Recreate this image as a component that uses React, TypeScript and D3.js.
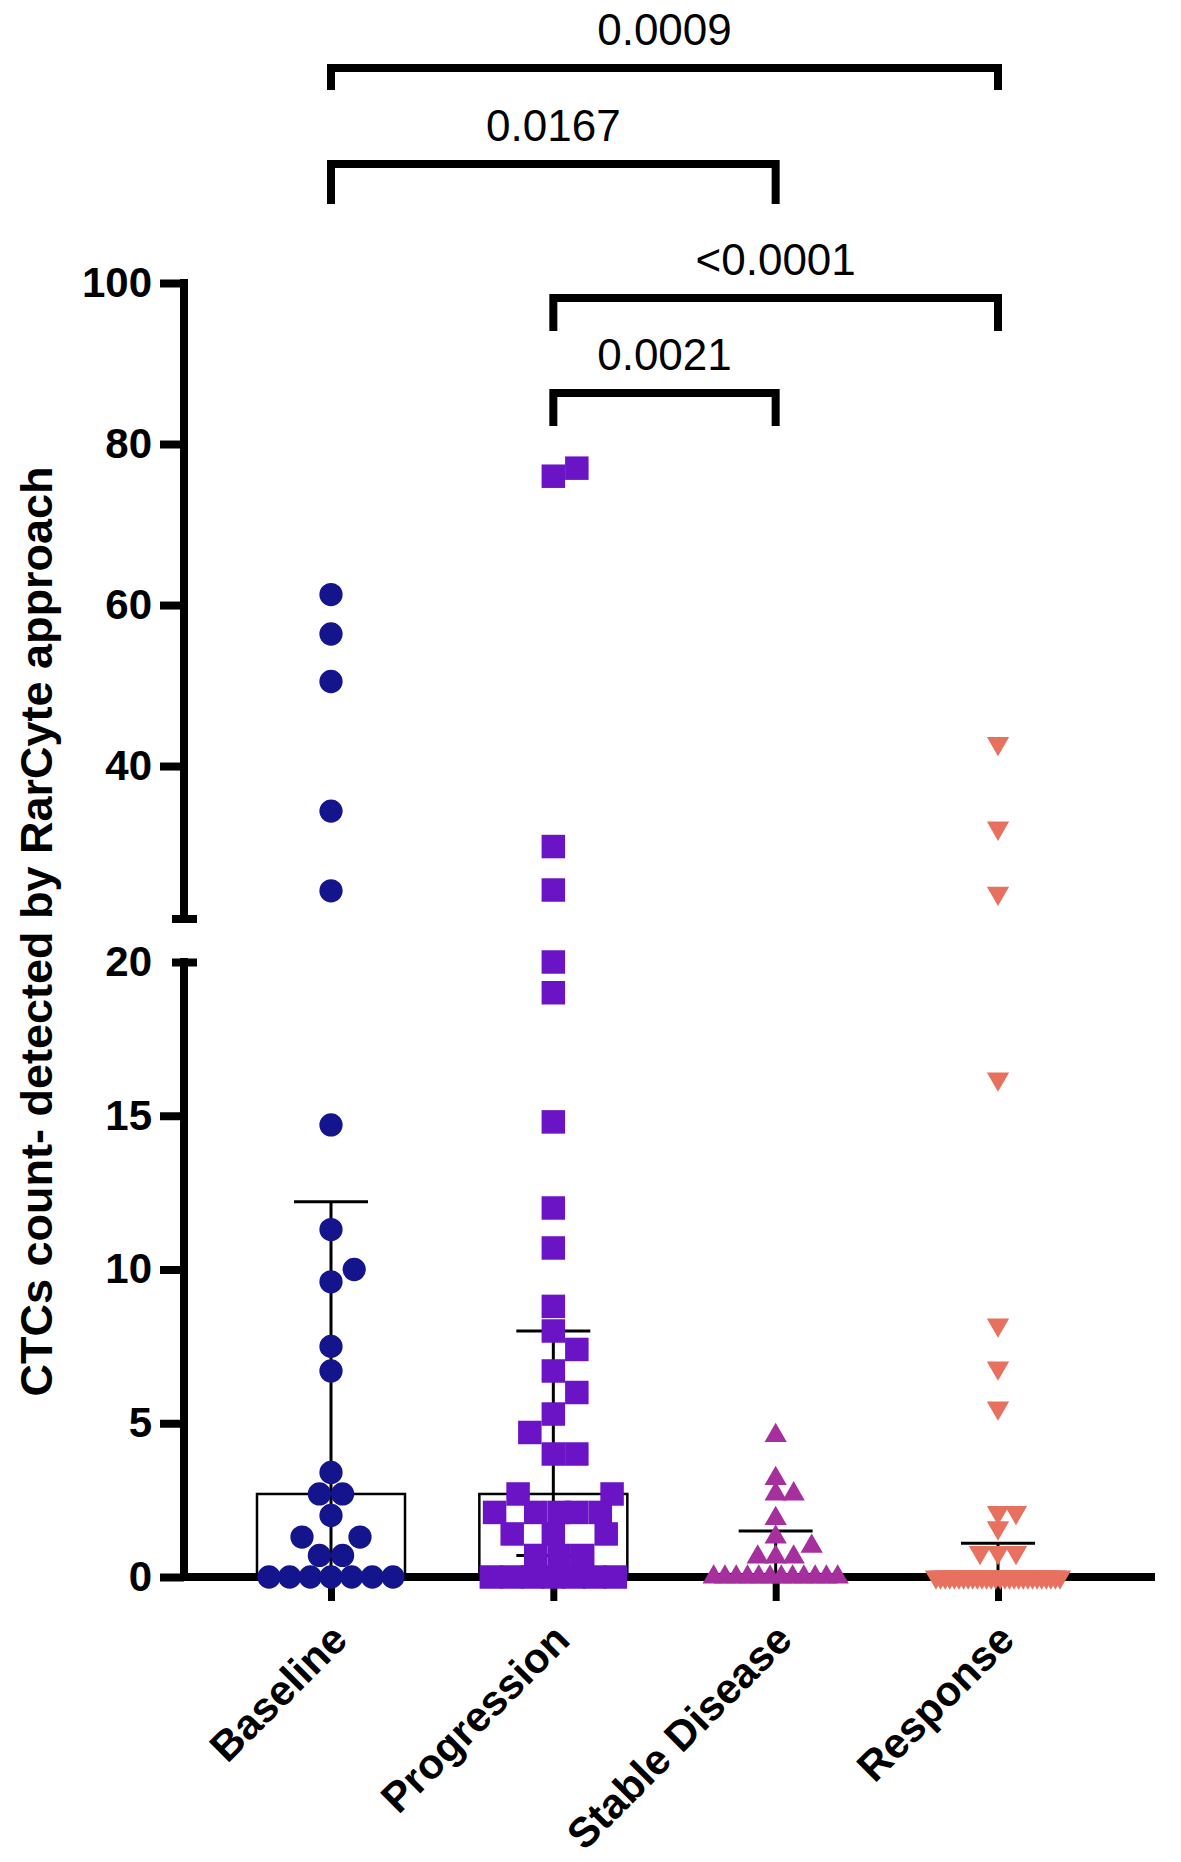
import { useEffect, useRef } from 'react';
import * as d3 from 'd3';

const categories = ['Baseline', 'Progression', 'Stable Disease', 'Response'];

const baselineValues = [
  61.3, 56.4, 50.5, 34.4, 24.5, 14.7, 11.3, 10.0, 9.6, 7.5, 6.7, 3.4, 2.7, 2.7, 2.0, 1.3, 1.3,
  0.7, 0.7, 0, 0, 0, 0, 0, 0, 0,
];
const progressionValues = [
  77, 76, 30, 24.6, 20, 19, 14.8, 12, 10.7, 8.8, 8.0, 7.4, 6.7, 6.0, 5.3, 4.7, 4.0, 4.0, 2.7, 2.7,
  2.1, 2.1, 2.1, 2.1, 2.1, 1.4, 1.4, 1.4, 0.7, 0.7, 0.7, 0, 0, 0, 0, 0, 0, 0,
];
const stableValues = [
  4.6, 3.2, 2.7, 2.7, 1.9, 1.3, 1.0, 0.65, 0.65, 0.65, 0, 0, 0, 0, 0, 0, 0, 0, 0, 0, 0, 0,
];
const responseValues = [
  42.8, 32.3, 24.2, 16.2, 8.2, 6.8, 5.5, 2.1, 2.1, 1.6, 0.8, 0.8, 0.8, 0, 0, 0, 0, 0, 0, 0, 0, 0,
  0, 0, 0, 0, 0, 0, 0, 0, 0, 0, 0, 0, 0, 0, 0, 0, 0, 0, 0,
];
const groupValues = [baselineValues, progressionValues, stableValues, responseValues];

// median with interquartile range
const medians = [2.7, 2.7, 0, 0];
const lowerQuartiles = [0, 0.7, 0, 0];
const upperQuartiles = [12.2, 8.0, 1.5, 1.1];

const lowTicks = [0, 5, 10, 15, 20];
const highTicks = [40, 60, 80, 100];

const compFrom = ['Baseline', 'Baseline', 'Progression', 'Progression'];
const compTo = ['Response', 'Stable Disease', 'Response', 'Stable Disease'];
const compLabels = ['0.0009', '0.0167', '<0.0001', '0.0021'];

const colors = ['#14148c', '#6a14c6', '#a62f9e', '#e8705f'];
const shapes = ['circle', 'square', 'triangle', 'triangleDown'];

const W = 1181;
const H = 1862;
const FONT = "'Liberation Sans', Arial, Helvetica, sans-serif";

interface Placed {
  v: number;
  x: number;
  y: number;
}

// simple beeswarm: long rows of equal values are squeezed, the rest avoid collisions
function swarm(
  values: number[],
  toY: (v: number) => number,
  w: number,
  h: number,
  round: boolean,
  maxHalf: number,
) {
  const counts = d3.rollup(values, (g) => g.length, (d) => d);
  const placed: Placed[] = [];
  counts.forEach((n, v) => {
    if (n < 6) return;
    const gap = Math.min(w, (2 * maxHalf) / (n - 1));
    for (let i = 0; i < n; i++) placed.push({ v, x: (i - (n - 1) / 2) * gap, y: toY(v) });
  });
  const overlap = (p: Placed, cx: number, cy: number) => {
    if (round) return Math.max(0, w - Math.hypot(p.x - cx, p.y - cy));
    const ox = Math.max(0, w - Math.abs(p.x - cx));
    const oy = Math.max(0, h - Math.abs(p.y - cy));
    return ox * oy;
  };
  const step = w / 4;
  const rest = values.filter((v) => (counts.get(v) ?? 0) < 6).sort((a, b) => a - b);
  rest.forEach((v) => {
    const y = toY(v);
    let best = 0;
    let bestScore = Infinity;
    for (let k = 0; k * step <= maxHalf; k++) {
      const cands = k === 0 ? [0] : [k * step, -k * step];
      for (const c of cands) {
        const score = d3.sum(placed, (p) => overlap(p, c, y));
        if (score < bestScore - 1e-6) {
          bestScore = score;
          best = c;
        }
      }
      if (bestScore === 0) break;
    }
    placed.push({ v, x: best, y });
  });
  return placed;
}

const App = () => {
  const svgRef = useRef<SVGSVGElement>(null);

  useEffect(() => {
    if (!svgRef.current) return;
    const svg = d3.select(svgRef.current);
    svg.selectAll('*').remove();

    const x = d3.scalePoint<string>().domain(categories).range([331, 998]);
    const yLow = d3.scaleLinear().domain([0, 20]).range([1577, 962]);
    const yHigh = d3.scaleLinear().domain([21, 100]).range([919, 283]);
    const y = (v: number) => (v <= 20.5 ? yLow(v) : yHigh(v));
    const axisX = 184;

    // y axis, lower segment
    const gLow = svg
      .append('g')
      .attr('transform', `translate(${axisX},0)`)
      .call(d3.axisLeft(yLow).tickValues(lowTicks).tickSize(24).tickSizeOuter(0).tickPadding(8));
    // y axis, upper segment
    const gHigh = svg
      .append('g')
      .attr('transform', `translate(${axisX},0)`)
      .call(d3.axisLeft(yHigh).tickValues(highTicks).tickSize(24).tickSizeOuter(0).tickPadding(8));

    [gLow, gHigh].forEach((g) => {
      g.select('.domain').remove();
      g.attr('font-family', FONT).attr('font-size', 42);
      g.selectAll('.tick line').attr('stroke', '#000').attr('stroke-width', 8);
      g.selectAll('.tick text').attr('fill', '#000').attr('font-weight', 'bold');
    });
    gLow
      .selectAll<SVGGElement, number>('.tick')
      .filter((d) => d === 20)
      .select('line')
      .attr('x1', -12)
      .attr('x2', 13);

    svg
      .append('line')
      .attr('x1', axisX)
      .attr('x2', axisX)
      .attr('y1', yLow(20) - 4)
      .attr('y2', yLow(0) + 4)
      .attr('stroke', '#000')
      .attr('stroke-width', 8);
    svg
      .append('line')
      .attr('x1', axisX)
      .attr('x2', axisX)
      .attr('y1', yHigh(100) - 4)
      .attr('y2', yHigh(21))
      .attr('stroke', '#000')
      .attr('stroke-width', 8);
    svg
      .append('line')
      .attr('x1', axisX - 12)
      .attr('x2', axisX + 13)
      .attr('y1', yHigh(21))
      .attr('y2', yHigh(21))
      .attr('stroke', '#000')
      .attr('stroke-width', 8);

    // x axis
    svg
      .append('line')
      .attr('x1', axisX - 4)
      .attr('x2', 1155)
      .attr('y1', yLow(0))
      .attr('y2', yLow(0))
      .attr('stroke', '#000')
      .attr('stroke-width', 8);
    const gx = svg
      .append('g')
      .attr('transform', `translate(0,${yLow(0)})`)
      .call(d3.axisBottom(x).tickSize(24).tickSizeOuter(0));
    gx.select('.domain').remove();
    gx.selectAll('.tick line').attr('stroke', '#000').attr('stroke-width', 7);
    gx.selectAll('.tick text')
      .attr('fill', '#000')
      .attr('font-family', FONT)
      .attr('font-size', 42)
      .attr('font-weight', 'bold')
      .attr('text-anchor', 'end')
      .attr('y', 0)
      .attr('dy', 0)
      .attr('transform', 'translate(18,65) rotate(-45)');

    // y title
    svg
      .append('text')
      .attr('transform', `translate(52,${(463 + 1400) / 2}) rotate(-90)`)
      .attr('text-anchor', 'middle')
      .attr('font-family', FONT)
      .attr('font-size', 45)
      .attr('font-weight', 'bold')
      .text('CTCs count- detected by RarCyte approach');

    // median bars and IQR
    categories.forEach((c, i) => {
      const cx = x(c) as number;
      if (medians[i] > 0) {
        svg
          .append('rect')
          .attr('x', cx - 74)
          .attr('width', 148)
          .attr('y', yLow(medians[i]))
          .attr('height', yLow(0) - yLow(medians[i]))
          .attr('fill', 'none')
          .attr('stroke', '#000')
          .attr('stroke-width', 2.5);
      }
      svg
        .append('line')
        .attr('x1', cx)
        .attr('x2', cx)
        .attr('y1', y(lowerQuartiles[i]))
        .attr('y2', y(upperQuartiles[i]))
        .attr('stroke', '#000')
        .attr('stroke-width', 3);
      const caps = lowerQuartiles[i] > 0 ? [lowerQuartiles[i], upperQuartiles[i]] : [upperQuartiles[i]];
      caps.forEach((q) => {
        svg
          .append('line')
          .attr('x1', cx - 37)
          .attr('x2', cx + 37)
          .attr('y1', y(q))
          .attr('y2', y(q))
          .attr('stroke', '#000')
          .attr('stroke-width', 3);
      });
    });

    // points
    const symbolFor: Record<
      string,
      { type: d3.SymbolType; size: number; w: number; h: number; round: boolean; rot: number }
    > = {
      circle: { type: d3.symbolCircle, size: 425, w: 23.2, h: 23.2, round: true, rot: 0 },
      square: { type: d3.symbolSquare, size: 552, w: 23.5, h: 23.5, round: false, rot: 0 },
      triangle: { type: d3.symbolTriangle, size: 215, w: 18, h: 15, round: false, rot: 0 },
      triangleDown: { type: d3.symbolTriangle, size: 215, w: 18, h: 15, round: false, rot: 180 },
    };

    categories.forEach((c, i) => {
      const cx = x(c) as number;
      const s = symbolFor[shapes[i]];
      const pts = swarm(groupValues[i], y, s.w, s.h, s.round, 62);
      const sym = d3.symbol().type(s.type).size(s.size)();
      svg
        .append('g')
        .selectAll('path')
        .data(pts)
        .enter()
        .append('path')
        .attr('d', sym)
        .attr('transform', (d) => `translate(${cx + d.x},${d.y}) rotate(${s.rot})`)
        .attr('fill', colors[i]);
    });

    // significance brackets
    const bracketY = [68, 164, 298, 393];
    const bracketDrop = [22, 40, 33, 33];
    compLabels.forEach((label, i) => {
      const x1 = x(compFrom[i]) as number;
      const x2 = x(compTo[i]) as number;
      const yb = bracketY[i];
      svg
        .append('path')
        .attr('d', `M${x1},${yb + bracketDrop[i]}V${yb}H${x2}V${yb + bracketDrop[i]}`)
        .attr('fill', 'none')
        .attr('stroke', '#000')
        .attr('stroke-width', 8)
        .attr('stroke-linejoin', 'miter');
      svg
        .append('text')
        .attr('x', (x1 + x2) / 2)
        .attr('y', yb - 23)
        .attr('text-anchor', 'middle')
        .attr('font-family', FONT)
        .attr('font-size', 44)
        .text(label);
    });
  }, []);

  return (
    <svg
      ref={svgRef}
      width={W}
      height={H}
      viewBox={`0 0 ${W} ${H}`}
      style={{ position: 'absolute', left: 0, top: 0, background: '#fff' }}
    />
  );
};

export default App;
